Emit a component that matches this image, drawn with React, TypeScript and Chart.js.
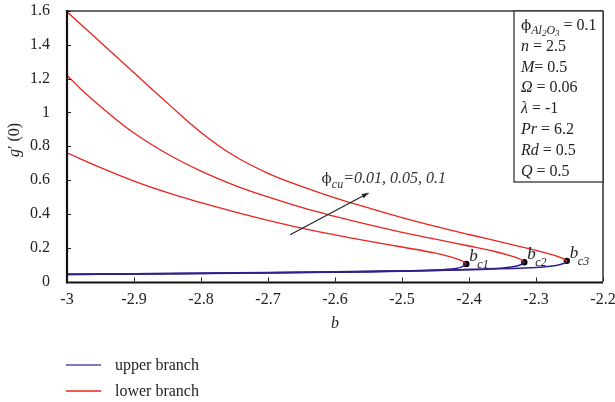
import { useEffect, useRef } from 'react';
import { Chart, registerables } from 'chart.js';

Chart.register(...registerables);

// ---- axis ticks ----
const xTickValues = [-3, -2.9, -2.8, -2.7, -2.6, -2.5, -2.4, -2.3, -2.2];
const xTickLabels = ['-3', '-2.9', '-2.8', '-2.7', '-2.6', '-2.5', '-2.4', '-2.3', '-2.2'];
const yTickValues = [0, 0.2, 0.4, 0.6, 0.8, 1, 1.2, 1.4, 1.6];
const yTickLabels = ['0', '0.2', '0.4', '0.6', '0.8', '1', '1.2', '1.4', '1.6'];

// ---- lower branch (red), phi_cu = 0.01, 0.05, 0.1 ----
const lower1X = [-3, -2.95, -2.9, -2.85, -2.8, -2.75, -2.7, -2.65, -2.6, -2.55, -2.5, -2.45, -2.425, -2.412, -2.404];
const lower1Y = [0.761, 0.674, 0.594, 0.525, 0.466, 0.412, 0.362, 0.316, 0.276, 0.239, 0.204, 0.168, 0.143, 0.125, 0.104];
const lower2X = [-3, -2.975, -2.95, -2.9, -2.85, -2.8, -2.75, -2.7, -2.65, -2.6, -2.55, -2.5, -2.45, -2.4, -2.36, -2.335, -2.324, -2.3175];
const lower2Y = [1.22, 1.122, 1.035, 0.878, 0.754, 0.653, 0.569, 0.5, 0.438, 0.385, 0.336, 0.291, 0.25, 0.21, 0.176, 0.149, 0.133, 0.114];
const lower3X = [-3, -2.95, -2.9, -2.85, -2.8, -2.75, -2.7, -2.65, -2.6, -2.55, -2.5, -2.45, -2.4, -2.35, -2.3, -2.275, -2.262, -2.254];
const lower3Y = [1.595, 1.415, 1.235, 1.055, 0.882, 0.742, 0.64, 0.563, 0.495, 0.435, 0.378, 0.326, 0.278, 0.232, 0.184, 0.158, 0.14, 0.122];

// ---- upper branch (blue) ----
const upper1X = [-3, -2.9, -2.8, -2.7, -2.6, -2.5, -2.45, -2.42, -2.41, -2.404];
const upper1Y = [0.043, 0.046, 0.049, 0.053, 0.057, 0.063, 0.068, 0.077, 0.088, 0.104];
const upper2X = [-3, -2.9, -2.8, -2.7, -2.6, -2.5, -2.4, -2.35, -2.33, -2.322, -2.3175];
const upper2Y = [0.042, 0.045, 0.048, 0.052, 0.056, 0.062, 0.071, 0.08, 0.09, 0.1, 0.114];
const upper3X = [-3, -2.9, -2.8, -2.7, -2.6, -2.5, -2.4, -2.3, -2.27, -2.258, -2.254];
const upper3Y = [0.041, 0.044, 0.047, 0.051, 0.055, 0.061, 0.07, 0.083, 0.095, 0.108, 0.122];

// ---- critical points ----
const criticalX = [-2.404, -2.3175, -2.254];
const criticalY = [0.104, 0.114, 0.122];
const criticalSub = ['c1', 'c2', 'c3'];

// ---- arrow annotation ----
const arrowX = [-2.667, -2.55];
const arrowY = [0.276, 0.523];
const arrowLabelPos = [-2.62, 0.582];

const RED = '#e8241f';
const BLUE = '#32208a';
const SERIF = '"Liberation Serif", "DejaVu Serif", serif';

const zip = (xs: number[], ys: number[]) => xs.map((x, i) => ({ x, y: ys[i] }));

type Seg = { t: string; italic?: boolean; size?: number; dy?: number; family?: string };

function fontOf(s: Seg, base: number) {
  return `${s.italic ? 'italic ' : ''}${s.size ?? base}px ${s.family ?? SERIF}`;
}

function segWidth(ctx: CanvasRenderingContext2D, segs: Seg[], base: number) {
  let w = 0;
  for (const s of segs) {
    ctx.font = fontOf(s, base);
    w += ctx.measureText(s.t).width;
  }
  return w;
}

function drawSegs(ctx: CanvasRenderingContext2D, segs: Seg[], x: number, y: number, base: number) {
  let cx = x;
  for (const s of segs) {
    ctx.font = fontOf(s, base);
    ctx.fillText(s.t, cx, y + (s.dy ?? 0));
    cx += ctx.measureText(s.t).width;
  }
}

const PHI_FONT = '"DejaVu Serif", serif';

const paramLines: Seg[][] = [
  [{ t: 'ϕ', size: 15, family: PHI_FONT }, { t: 'Al', italic: true, size: 12, dy: 4 }, { t: '2', italic: true, size: 9, dy: 6 }, { t: 'O', italic: true, size: 12, dy: 4 }, { t: '3', italic: true, size: 9, dy: 6 }, { t: ' = 0.1' }],
  [{ t: 'n', italic: true }, { t: ' = 2.5' }],
  [{ t: 'M', italic: true }, { t: '= 0.5' }],
  [{ t: 'Ω', italic: true }, { t: ' = 0.06' }],
  [{ t: 'λ', italic: true }, { t: ' = -1' }],
  [{ t: 'Pr', italic: true }, { t: ' = 6.2' }],
  [{ t: 'Rd', italic: true }, { t: ' = 0.5' }],
  [{ t: 'Q', italic: true }, { t: ' = 0.5' }],
];

const legendItems = [
  { label: 'upper branch', color: '#5a4aa8' },
  { label: 'lower branch', color: RED },
];

const decorPlugin = {
  id: 'decor',
  afterDatasetsDraw(chart: any) {
    const { ctx, chartArea: a, scales } = chart;
    const xs = scales.x;
    const ys = scales.y;
    ctx.save();

    // borders
    ctx.lineCap = 'butt';
    ctx.strokeStyle = '#6a6a6a';
    ctx.lineWidth = 2;
    ctx.beginPath();
    ctx.moveTo(a.left, a.top);
    ctx.lineTo(a.right, a.top);
    ctx.stroke();
    ctx.strokeStyle = '#333';
    ctx.lineWidth = 1.5;
    ctx.beginPath();
    ctx.moveTo(a.right, a.top);
    ctx.lineTo(a.right, a.bottom);
    ctx.stroke();
    ctx.strokeStyle = '#111';
    ctx.lineWidth = 2.2;
    ctx.beginPath();
    ctx.moveTo(a.left, a.top - 1);
    ctx.lineTo(a.left, a.bottom + 1);
    ctx.lineTo(a.right, a.bottom + 1);
    ctx.stroke();

    // inside ticks
    ctx.lineWidth = 1;
    ctx.strokeStyle = '#222';
    for (const v of yTickValues) {
      const py = Math.round(ys.getPixelForValue(v)) + 0.5;
      ctx.beginPath();
      ctx.moveTo(a.left, py);
      ctx.lineTo(a.left + 4, py);
      ctx.stroke();
    }
    for (const v of xTickValues) {
      const px = Math.round(xs.getPixelForValue(v)) + 0.5;
      ctx.beginPath();
      ctx.moveTo(px, a.bottom);
      ctx.lineTo(px, a.bottom - 4);
      ctx.stroke();
    }

    // parameter box
    const bx = 514, by = a.top, bw = a.right - 514, bh = 171;
    ctx.fillStyle = '#fff';
    ctx.fillRect(bx, by, bw, bh);
    ctx.strokeStyle = '#222';
    ctx.lineWidth = 1.2;
    ctx.strokeRect(bx, by, bw, bh);
    ctx.fillStyle = '#222';
    ctx.textBaseline = 'alphabetic';
    ctx.textAlign = 'left';
    paramLines.forEach((segs, i) => {
      drawSegs(ctx, segs, 521, 30 + i * 20.8, 16);
    });

    // critical labels
    criticalX.forEach((cx, i) => {
      const px = xs.getPixelForValue(cx);
      const py = ys.getPixelForValue(criticalY[i]);
      drawSegs(ctx, [{ t: 'b', italic: true, size: 17 }], px + 3, py - 3, 16);
      drawSegs(ctx, [{ t: criticalSub[i], italic: true, size: 12 }], px + 11, py + 4, 16);
    });

    // arrow
    const x0 = xs.getPixelForValue(arrowX[0]);
    const y0 = ys.getPixelForValue(arrowY[0]);
    const x1 = xs.getPixelForValue(arrowX[1]);
    const y1 = ys.getPixelForValue(arrowY[1]);
    ctx.strokeStyle = '#222';
    ctx.lineWidth = 1.1;
    ctx.beginPath();
    ctx.moveTo(x0, y0);
    ctx.lineTo(x1, y1);
    ctx.stroke();
    const ang = Math.atan2(y1 - y0, x1 - x0);
    ctx.fillStyle = '#222';
    ctx.beginPath();
    ctx.moveTo(x1, y1);
    ctx.lineTo(x1 - 7 * Math.cos(ang - 0.35), y1 - 7 * Math.sin(ang - 0.35));
    ctx.lineTo(x1 - 7 * Math.cos(ang + 0.35), y1 - 7 * Math.sin(ang + 0.35));
    ctx.closePath();
    ctx.fill();

    // arrow label
    ctx.fillStyle = '#333';
    drawSegs(
      ctx,
      [{ t: 'ϕ', size: 15, family: PHI_FONT }, { t: 'cu', italic: true, size: 12, dy: 5 }, { t: '=0.01, 0.05, 0.1', italic: true }],
      xs.getPixelForValue(arrowLabelPos[0]),
      ys.getPixelForValue(arrowLabelPos[1]),
      16
    );

    // axis titles
    ctx.fillStyle = '#222';
    const bw2 = segWidth(ctx, [{ t: 'b', italic: true }], 16);
    drawSegs(ctx, [{ t: 'b', italic: true }], (a.left + a.right) / 2 - bw2 / 2, 328, 16);
    const ySegs: Seg[] = [{ t: 'g', italic: true }, { t: '′ (0)' }];
    const yw = segWidth(ctx, ySegs, 16);
    ctx.save();
    ctx.translate(19, 140);
    ctx.rotate(-Math.PI / 2);
    drawSegs(ctx, ySegs, -yw / 2, 0, 16);
    ctx.restore();

    // legend
    legendItems.forEach((it, i) => {
      const ly = 365 + i * 26;
      ctx.strokeStyle = it.color;
      ctx.lineWidth = 1.3;
      ctx.beginPath();
      ctx.moveTo(66, ly);
      ctx.lineTo(101, ly);
      ctx.stroke();
      ctx.fillStyle = '#222';
      drawSegs(ctx, [{ t: it.label }], 115, ly + 5, 16);
    });

    ctx.restore();
  },
};

export default function App() {
  const ref = useRef<HTMLCanvasElement | null>(null);

  useEffect(() => {
    document.body.style.margin = '0';
    if (!ref.current) return;
    const lineDs = (data: any[], color: string, width: number) => ({
      type: 'scatter' as const,
      data,
      showLine: true,
      borderColor: color,
      backgroundColor: color,
      borderWidth: width,
      pointRadius: 0,
      tension: 0.4,
      fill: false,
    });
    const chart = new Chart(ref.current, {
      type: 'scatter',
      data: {
        datasets: [
          lineDs(zip(lower1X, lower1Y), RED, 1.3),
          lineDs(zip(lower2X, lower2Y), RED, 1.3),
          lineDs(zip(lower3X, lower3Y), RED, 1.3),
          lineDs(zip(upper1X, upper1Y), BLUE, 1.6),
          lineDs(zip(upper2X, upper2Y), BLUE, 1.6),
          lineDs(zip(upper3X, upper3Y), BLUE, 1.6),
          {
            type: 'scatter',
            data: zip(criticalX, criticalY),
            showLine: false,
            pointRadius: 3.2,
            pointBackgroundColor: '#000',
            pointBorderColor: '#000',
            pointBorderWidth: 0,
          } as any,
        ],
      },
      options: {
        responsive: false,
        animation: false,
        devicePixelRatio: 1,
        layout: { padding: { top: 11, right: 12, left: 0, bottom: 0 } },
        plugins: { legend: { display: false }, tooltip: { enabled: false } },
        scales: {
          x: {
            type: 'linear',
            min: -3,
            max: -2.2,
            grid: { display: false },
            border: { display: false },
            afterBuildTicks: (s: any) => {
              s.ticks = xTickValues.map((v) => ({ value: v }));
            },
            afterFit: (s: any) => {
              s.height = 120.5;
              s.paddingLeft = 0;
              s.paddingRight = 0;
            },
            ticks: {
              autoSkip: false,
              maxRotation: 0,
              padding: 1,
              color: '#222',
              font: { family: SERIF, size: 16 },
              callback: (_v: any, i: number) => xTickLabels[i],
            },
          },
          y: {
            type: 'linear',
            min: 0,
            max: 1.6,
            grid: { display: false },
            border: { display: false },
            afterBuildTicks: (s: any) => {
              s.ticks = yTickValues.map((v) => ({ value: v }));
            },
            afterFit: (s: any) => {
              s.width = 67;
              s.paddingTop = 0;
              s.paddingBottom = 0;
            },
            ticks: {
              autoSkip: false,
              padding: 9,
              color: '#222',
              font: { family: SERIF, size: 16 },
              callback: (_v: any, i: number) => yTickLabels[i],
            },
          },
        },
      },
      plugins: [decorPlugin],
    });
    return () => chart.destroy();
  }, []);

  return (
    <div style={{ width: 615, height: 402, background: '#fff' }}>
      <canvas ref={ref} width={615} height={402} style={{ width: 615, height: 402, display: 'block' }} />
    </div>
  );
}
